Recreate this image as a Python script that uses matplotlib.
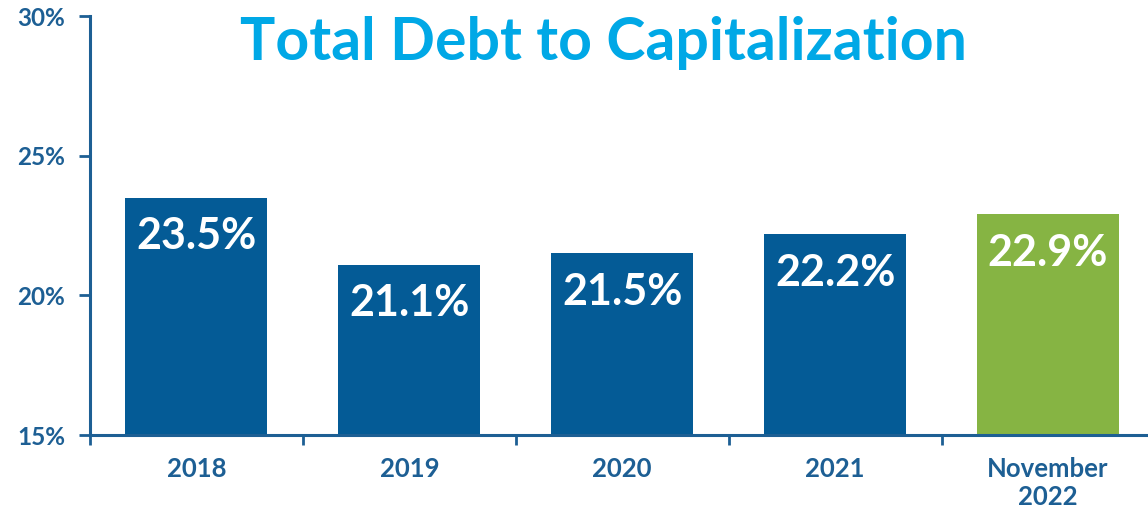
import matplotlib

matplotlib.use("Agg")
import matplotlib.pyplot as plt
import numpy as np

categories = ["2018", "2019", "2020", "2021", "November\n2022"]
debt_to_cap = [23.5, 21.1, 21.5, 22.2, 22.9]
value_labels = ["23.5%", "21.1%", "21.5%", "22.2%", "22.9%"]
y_ticks = [15, 20, 25, 30]

DARK_BLUE = "#045B96"
GREEN = "#86B443"
TITLE_BLUE = "#00A8E6"
AXIS_BLUE = "#1D5F94"

plt.rcParams["font.family"] = ["Lato", "DejaVu Sans"]

fig = plt.figure(figsize=(11.48, 5.11), dpi=100)
ax = fig.add_axes([90 / 1148, 76 / 511, 1 - 90 / 1148, (435 - 16) / 511])

x = np.arange(len(categories))
colors = [DARK_BLUE] * (len(categories) - 1) + [GREEN]
bars = ax.bar(x, debt_to_cap, width=0.667, color=colors, zorder=2)

for bar, lbl in zip(bars, value_labels):
    ax.annotate(lbl, (bar.get_x() + bar.get_width() / 2, bar.get_height()),
                xytext=(0, -28), textcoords="offset points",
                ha="center", va="center", color="white",
                fontsize=31, fontweight="bold")

ax.set_ylim(15, 30)
ax.set_xlim(-0.5, (1148 - 196) / 213)
ax.set_yticks(y_ticks)
ax.set_yticklabels([f"{v}%" for v in y_ticks])

# category labels centred on bars, ticks between categories
ax.set_xticks(np.arange(-0.5, len(categories) - 0.5, 1.0))
ax.set_xticklabels([])
ax.set_xticks(x, minor=True)
ax.set_xticklabels(categories, minor=True)
ax.tick_params(axis="x", which="minor", length=0, pad=16)
ax.tick_params(axis="x", which="major", length=7, width=2, color=AXIS_BLUE)
ax.tick_params(axis="y", length=8, width=2, color=AXIS_BLUE, pad=10)

for lbl in ax.get_yticklabels() + ax.get_xticklabels(minor=True):
    lbl.set_color(AXIS_BLUE)
    lbl.set_fontweight("bold")
for lbl in ax.get_yticklabels():
    lbl.set_fontsize(17.5)
for lbl in ax.get_xticklabels(minor=True):
    lbl.set_fontsize(18.5)
    lbl.set_linespacing(1.2)

for side in ["top", "right"]:
    ax.spines[side].set_visible(False)
for side in ["left", "bottom"]:
    ax.spines[side].set_color(AXIS_BLUE)
    ax.spines[side].set_linewidth(2.2)

ax.text(0.526, 0.915, "Total Debt to Capitalization", transform=fig.transFigure,
        ha="center", va="center", color=TITLE_BLUE, fontsize=42.5, fontweight="bold")

fig.savefig("out.png", dpi=100)
